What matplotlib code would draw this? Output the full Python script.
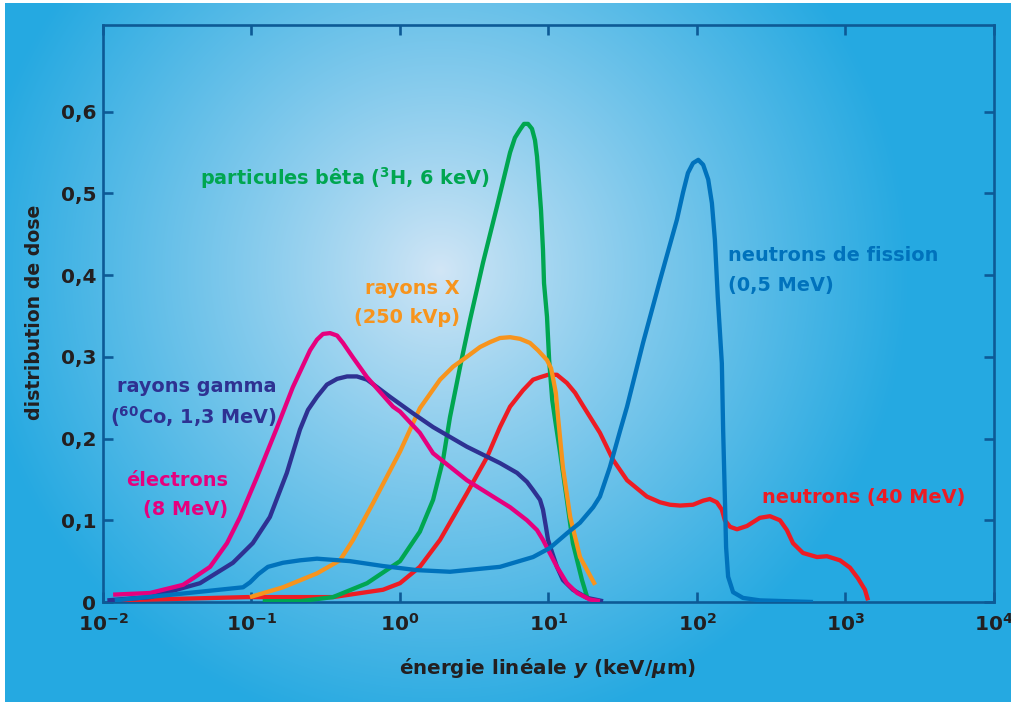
import numpy as np
import matplotlib
matplotlib.use("Agg")
import matplotlib.pyplot as plt

# ---------------- data ----------------
electrons_x = [0.0117, 0.0207, 0.0346, 0.0404, 0.0526, 0.0684, 0.0838, 0.109, 0.149, 0.190, 0.248,
               0.276, 0.303, 0.338, 0.377, 0.413, 0.483, 0.600, 0.897, 1.0, 1.36, 1.67, 2.82, 4.23,
               5.51, 7.16, 8.37, 9.18, 10.2, 11.4, 13.3, 15.6, 19.0, 22.2]
electrons_y = [0.009, 0.011, 0.021, 0.029, 0.043, 0.072, 0.104, 0.153, 0.214, 0.263, 0.308,
               0.321, 0.328, 0.329, 0.326, 0.317, 0.299, 0.275, 0.239, 0.233, 0.207, 0.182, 0.149, 0.129,
               0.116, 0.100, 0.088, 0.076, 0.060, 0.043, 0.023, 0.011, 0.003, 0.001]

gamma_x = [0.0107, 0.0207, 0.045, 0.075, 0.102, 0.133, 0.173, 0.212, 0.240, 0.276, 0.322, 0.377,
           0.440, 0.513, 0.600, 0.700, 0.857, 1.22, 1.67, 2.82, 4.71, 6.14, 7.16, 7.87, 8.77, 9.18,
           9.61, 9.93, 10.6, 11.4, 12.5, 14.6, 18.2, 23.3]
gamma_y = [0.002, 0.006, 0.023, 0.048, 0.072, 0.104, 0.158, 0.211, 0.235, 0.251, 0.266, 0.273,
           0.276, 0.276, 0.272, 0.263, 0.251, 0.231, 0.214, 0.190, 0.170, 0.158, 0.147, 0.137, 0.125, 0.113,
           0.092, 0.076, 0.060, 0.043, 0.027, 0.015, 0.005, 0.001]

xray_x = [0.0977, 0.163, 0.276, 0.394, 0.483, 0.658, 1.0, 1.36, 1.86, 2.28, 2.82, 3.46, 4.04, 4.71,
          5.51, 6.43, 7.50, 8.49, 9.77, 10.4, 10.7, 11.2, 11.6, 12.5, 14.0, 16.3, 20.6]
xray_y = [0.006, 0.018, 0.035, 0.051, 0.076, 0.121, 0.184, 0.237, 0.272, 0.288, 0.300, 0.312, 0.318,
          0.323, 0.324, 0.322, 0.317, 0.308, 0.296, 0.286, 0.275, 0.256, 0.226, 0.165, 0.104, 0.055, 0.021]

beta_x = [0.119, 0.212, 0.354, 0.600, 1.0, 1.36, 1.67, 1.95, 2.17, 2.54, 2.96, 3.62, 4.50,
          5.51, 5.94, 6.43, 6.84, 7.28, 7.74, 8.11, 8.37, 8.63, 8.90, 9.18, 9.33, 9.77, 10.1,
          10.6, 11.1, 11.9, 13.3, 14.6, 16.8, 18.2]
beta_y = [0.001, 0.001, 0.006, 0.023, 0.050, 0.086, 0.125, 0.174, 0.226, 0.288, 0.345, 0.415, 0.484,
          0.550, 0.568, 0.578, 0.585, 0.585, 0.579, 0.565, 0.545, 0.513, 0.480, 0.431, 0.390, 0.349, 0.296,
          0.247, 0.222, 0.186, 0.125, 0.072, 0.027, 0.006]

n40_x = [0.0124, 0.0933, 0.354, 0.769, 1.0, 1.36, 1.86, 2.82, 3.85, 4.71, 5.51, 6.73, 7.87, 8.77,
         9.93, 11.4, 13.3, 15.1, 17.1, 22.2, 27.2, 33.8, 46.0, 56.4, 65.8, 76.9, 94.0, 110, 122, 136,
         147, 154, 167, 186, 217, 265, 310, 362, 403, 443, 517, 643, 750, 918, 1072, 1213, 1352, 1419]
n40_y = [0.002, 0.006, 0.006, 0.015, 0.023, 0.043, 0.076, 0.133, 0.177, 0.214, 0.239, 0.259, 0.272, 0.275,
         0.278, 0.278, 0.268, 0.256, 0.240, 0.207, 0.174, 0.149, 0.129, 0.122, 0.119, 0.118, 0.119, 0.124,
         0.126, 0.122, 0.113, 0.100, 0.092, 0.089, 0.093, 0.103, 0.105, 0.100, 0.088, 0.072, 0.060, 0.055,
         0.056, 0.051, 0.042, 0.029, 0.015, 0.002]

fission_x = [0.0120, 0.033, 0.0877, 0.0977, 0.111, 0.129, 0.163, 0.212, 0.276, 0.460, 0.769, 1.30,
             2.17, 4.71, 7.87, 10.2, 13.3, 16.3, 20.0, 22.2, 25.9, 30.4, 33.8, 43.3, 56.4, 73.3, 80.5,
             86.9, 94.0, 102, 110, 119, 126, 132, 138, 147, 150, 154, 157, 162, 175, 204, 265, 604]
fission_y = [0.002, 0.010, 0.018, 0.024, 0.034, 0.043, 0.048, 0.051, 0.053, 0.050, 0.044, 0.039,
             0.037, 0.043, 0.055, 0.066, 0.084, 0.097, 0.116, 0.129, 0.165, 0.210, 0.239, 0.317, 0.394,
             0.468, 0.501, 0.525, 0.537, 0.541, 0.535, 0.517, 0.488, 0.443, 0.373, 0.292, 0.210, 0.129,
             0.067, 0.031, 0.012, 0.005, 0.002, 0.0]

y_ticks = [0, 0.1, 0.2, 0.3, 0.4, 0.5, 0.6]
y_ticklabels = ["0", "0,1", "0,2", "0,3", "0,4", "0,5", "0,6"]
x_ticks = [1e-2, 1e-1, 1e0, 1e1, 1e2, 1e3, 1e4]
x_ticklabels = [r"$\mathbf{10^{-2}}$", r"$\mathbf{10^{-1}}$", r"$\mathbf{10^{0}}$",
                r"$\mathbf{10^{1}}$", r"$\mathbf{10^{2}}$", r"$\mathbf{10^{3}}$",
                r"$\mathbf{10^{4}}$"]

# ---------------- styling ----------------
W, H = 1012, 702
plt.rcParams['font.family'] = ['DejaVu Sans']
plt.rcParams['mathtext.fontset'] = 'custom'
plt.rcParams['mathtext.rm'] = 'DejaVu Sans:bold'
plt.rcParams['mathtext.it'] = 'DejaVu Sans:bold:italic'
plt.rcParams['mathtext.bf'] = 'DejaVu Sans:bold'

TXT = '#231f20'
AXC = '#0d5a96'
C_MAG = '#e6007e'
C_NAVY = '#2e3192'
C_ORA = '#f7941d'
C_GRN = '#00a651'
C_RED = '#ed1c24'
C_BLU = '#0072bc'

fig = plt.figure(figsize=(W / 100, H / 100), dpi=100)
fig.patch.set_facecolor('white')

# background radial gradient
bg = fig.add_axes([5 / W, 0, 1 - 5 / W, 1 - 3 / H])
bg.set_axis_off()
yy, xx = np.mgrid[0:H, 0:W]
r = np.sqrt((xx - 440.0) ** 2 + (yy - 270.0) ** 2)
t = np.clip(r / 470.0, 0, 1) ** 0.9
c0 = np.array([0xd2, 0xe6, 0xf6]) / 255.0
c1 = np.array([0x25, 0xa9, 0xe1]) / 255.0
img = c0[None, None, :] * (1 - t[..., None]) + c1[None, None, :] * t[..., None]
bg.imshow(img, extent=[0, W, H, 0], aspect='auto', interpolation='bilinear')
bg.set_xlim(5, W)
bg.set_ylim(H, 3)

ax = fig.add_axes([103 / W, 1 - 602 / H, (994 - 103) / W, (602 - 25) / H])
ax.patch.set_alpha(0)
ax.set_xscale('log')
ax.set_xlim(1e-2, 1e4)
ax.set_ylim(0, 0.706)

lw = 3.1
kw = dict(lw=lw, solid_capstyle='butt', solid_joinstyle='round')
ax.plot(n40_x, n40_y, color=C_RED, zorder=3, **kw)
ax.plot(beta_x, beta_y, color=C_GRN, zorder=3, **kw)
ax.plot(xray_x, xray_y, color=C_ORA, zorder=3, **kw)
ax.plot(gamma_x, gamma_y, color=C_NAVY, zorder=3, **kw)
ax.plot(electrons_x, electrons_y, color=C_MAG, zorder=3, **kw)
ax.plot(fission_x, fission_y, color=C_BLU, zorder=4, **kw)

for s in ax.spines.values():
    s.set_color(AXC)
    s.set_linewidth(1.9)

ax.set_xticks(x_ticks)
ax.set_xticklabels(x_ticklabels)
ax.xaxis.set_minor_locator(matplotlib.ticker.NullLocator())
ax.set_yticks(y_ticks)
ax.set_yticklabels(y_ticklabels)
ax.tick_params(axis='both', which='major', direction='in', length=7.5, width=1.9,
               color=AXC, top=True, right=True, labelsize=14.5, labelcolor=TXT)
ax.tick_params(axis='x', pad=8)
ax.tick_params(axis='y', pad=5)
for lab in ax.get_yticklabels() + ax.get_xticklabels():
    lab.set_fontweight('bold')


def px(x, y):
    return x / W, 1 - y / H


fs = 13.9
fw = 'bold'
fig.text(*px(200, 178), r"particules bêta ($\mathregular{^3}$H, 6 keV)", color=C_GRN,
         fontsize=fs, fontweight=fw, ha='left', va='center')
fig.text(*px(460, 288), "rayons X", color=C_ORA, fontsize=fs, fontweight=fw, ha='right', va='center')
fig.text(*px(460, 318), "(250 kVp)", color=C_ORA, fontsize=fs, fontweight=fw, ha='right', va='center')
fig.text(*px(277, 386), "rayons gamma", color=C_NAVY, fontsize=fs, fontweight=fw, ha='right', va='center')
fig.text(*px(277, 417), r"($\mathregular{^{60}}$Co, 1,3 MeV)", color=C_NAVY, fontsize=fs,
         fontweight=fw, ha='right', va='center')
fig.text(*px(228, 480), "électrons", color=C_MAG, fontsize=fs, fontweight=fw, ha='right', va='center')
fig.text(*px(228, 510), "(8 MeV)", color=C_MAG, fontsize=fs, fontweight=fw, ha='right', va='center')
fig.text(*px(728, 255), "neutrons de fission", color=C_BLU, fontsize=fs, fontweight=fw,
         ha='left', va='center')
fig.text(*px(728, 286), "(0,5 MeV)", color=C_BLU, fontsize=fs, fontweight=fw, ha='left', va='center')
fig.text(*px(762, 497), "neutrons (40 MeV)", color=C_RED, fontsize=fs, fontweight=fw,
         ha='left', va='center')

fig.text(*px(35, 312), "distribution de dose", color=TXT, fontsize=13.6, fontweight='bold',
         rotation=90, ha='center', va='center')
fig.text(*px(548, 668), r"énergie linéale $\mathit{y}$ (keV/$\mu$m)", color=TXT, fontsize=14.3,
         fontweight='bold', ha='center', va='center')

fig.savefig('out.png', dpi=100, facecolor=fig.get_facecolor())
